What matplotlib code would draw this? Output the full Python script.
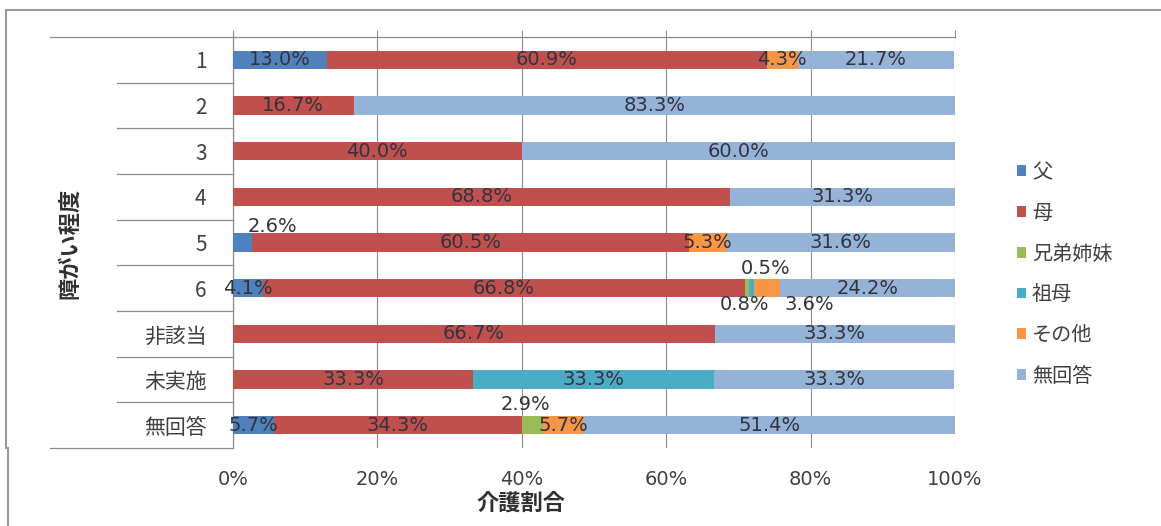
import numpy as np
import matplotlib
matplotlib.use("Agg")
import matplotlib.pyplot as plt
import matplotlib.transforms as mtransforms
from matplotlib.patches import Patch
from matplotlib.lines import Line2D

plt.rcParams['font.family'] = ['Noto Sans CJK JP', 'DejaVu Sans']

# categories of 障がい程度, top to bottom
categories = ["1", "2", "3", "4", "5", "6", "非該当", "未実施", "無回答"]

# share of each carer (%) per category
father    = [13.0, 0.0, 0.0, 0.0, 2.6, 4.1, 0.0, 0.0, 5.7]
mother    = [60.9, 16.7, 40.0, 68.8, 60.5, 66.8, 66.7, 33.3, 34.3]
sibling   = [0.0, 0.0, 0.0, 0.0, 0.0, 0.5, 0.0, 0.0, 2.9]
grandma   = [0.0, 0.0, 0.0, 0.0, 0.0, 0.8, 0.0, 33.3, 0.0]
other     = [4.3, 0.0, 0.0, 0.0, 5.3, 3.6, 0.0, 0.0, 5.7]
no_answer = [21.7, 83.3, 60.0, 31.3, 31.6, 24.2, 33.3, 33.3, 51.4]

series_names = ["父", "母", "兄弟姉妹", "祖母", "その他", "無回答"]
colors = ["#4F81BD", "#C0504D", "#9BBB59", "#4BACC6", "#F79646", "#95B3D7"]

xticks = [0, 20, 40, 60, 80, 100]
xtick_labels = ["0%", "20%", "40%", "60%", "80%", "100%"]

# labels moved off their segment: (row, series) -> pixel offset
label_shift = {
    (4, 0): (30, 16),
    (5, 2): (19, 20),
    (5, 3): (-7, -16),
    (5, 4): (42, -16),
    (8, 2): (-7, 21),
}

W, H = 1161, 526
fig = plt.figure(figsize=(W / 100, H / 100), dpi=100)
ax = fig.add_axes([233 / W, 1 - 448 / H, (955 - 233) / W, (448 - 37) / H])

grid_col = "#8c8c8c"
text_col = "#33333f"

data = np.array([father, mother, sibling, grandma, other, no_answer])
y = np.arange(len(categories))
left = np.zeros(len(categories))
for s in range(len(series_names)):
    ax.barh(y, data[s], left=left, height=0.4, color=colors[s], zorder=3)
    for r in range(len(categories)):
        v = data[s][r]
        if v <= 0:
            continue
        dx, dy = label_shift.get((r, s), (0, 0))
        ax.annotate(f"{v:.1f}%", (left[r] + v / 2, r), xytext=(dx, dy),
                    textcoords="offset pixels", ha="center", va="center",
                    fontsize=14, family="DejaVu Sans", color=text_col, zorder=4)
    left += data[s]

ax.set_xlim(0, 100)
ax.set_ylim(len(categories) - 0.5, -0.5)

ax.set_xticks(xticks)
ax.set_xticklabels(xtick_labels, family="DejaVu Sans", fontsize=14, color="#404040")
ax.xaxis.set_tick_params(top=True, bottom=False, labelbottom=True, labeltop=False,
                         direction="out", length=5, width=0.8, color=grid_col, pad=11)
ax.set_yticks(y)
ax.set_yticklabels(categories, fontsize=15, color="#404040")
ax.tick_params(axis="y", length=0, pad=19)

ax.xaxis.grid(True, color=grid_col, linewidth=0.8, zorder=0)
for side in ["right", "bottom"]:
    ax.spines[side].set_visible(False)
for side in ["left", "top"]:
    ax.spines[side].set_color(grid_col)
    ax.spines[side].set_linewidth(0.9)

# separators of the category axis
tr = mtransforms.blended_transform_factory(fig.transFigure, ax.transData)
for k in range(len(categories) + 1):
    x0 = 50 / W if k in (0, len(categories)) else 117 / W
    ax.add_line(Line2D([x0, 233 / W], [k - 0.5, k - 0.5], transform=tr,
                       color=grid_col, linewidth=0.9, clip_on=False))

fig.text(70 / W, 1 - 243 / H, "障がい程度", rotation=90, ha="center", va="center",
         fontsize=16, fontweight="bold", color="#303030")
fig.text(521 / W, 1 - 503 / H, "介護割合", ha="center", va="center",
         fontsize=16, fontweight="bold", color="#303030")

handles = [Patch(facecolor=c, edgecolor="none") for c in colors]
fig.legend(handles, series_names, loc="upper left", bbox_to_anchor=(1017 / W, 1 - 162 / H),
           frameon=False, fontsize=14.5, handlelength=0.45, handleheight=0.45,
           handletextpad=0.3, labelspacing=0.98, borderpad=0, borderaxespad=0,
           labelcolor="#404040")

# chart frame
frame_col = "#9a9a9a"
fig.add_artist(Line2D([6 / W, 1], [1 - 10 / H, 1 - 10 / H], color=frame_col, linewidth=1.5))
fig.add_artist(Line2D([6 / W, 6 / W], [1 - 10 / H, 1 - 448 / H], color=frame_col, linewidth=1.5))
fig.add_artist(Line2D([8 / W, 8 / W], [1 - 448 / H, 0], color=frame_col, linewidth=1.5))

fig.savefig("out.png", dpi=100)
